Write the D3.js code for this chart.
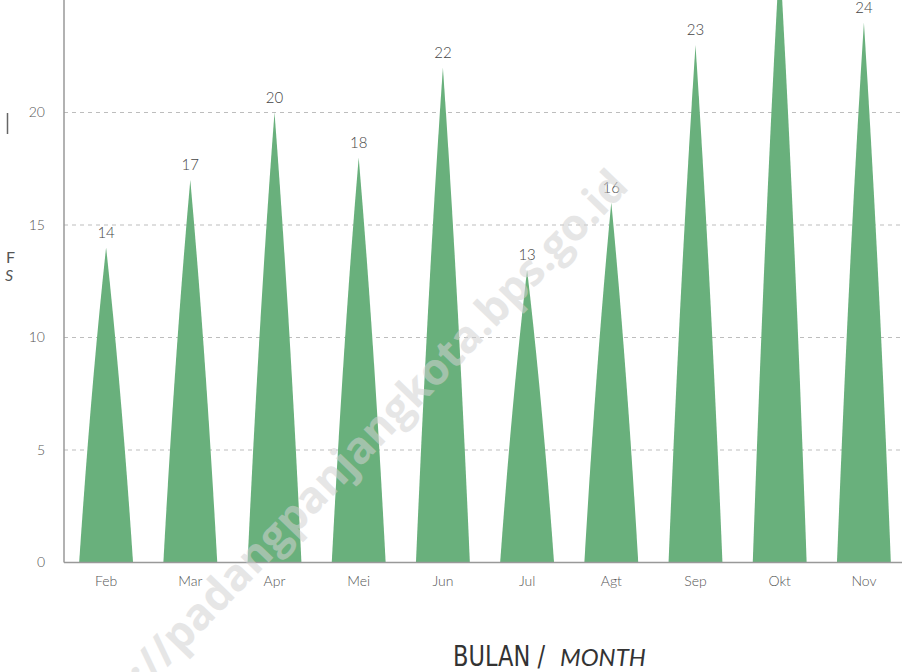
<!DOCTYPE html>
<html>
<head>
<meta charset="utf-8">
<script src="https://cdn.jsdelivr.net/npm/d3@7"></script>
<style>
  html, body { margin: 0; padding: 0; background: #fff; }
  svg { display: block; }
</style>
</head>
<body>
<svg id="chart" width="902" height="672"></svg>
<script>
const months = ["Feb", "Mar", "Apr", "Mei", "Jun", "Jul", "Agt", "Sep", "Okt", "Nov"];
const values = [14, 17, 20, 18, 22, 13, 16, 23, 27, 24];
const yTicks = [0, 5, 10, 15, 20];
const xTitleMain = "BULAN /";
const xTitleItalic = "MONTH";
const watermark = "http://padangpanjangkota.bps.go.id";

(function () {
const svg = d3.select("#chart");
const plotLeft = 64, plotRight = 906, plotBase = 562.5, plotTop = 0;

const x = d3.scaleBand().domain(months).range([plotLeft, plotRight]).padding(0);
const y = d3.scaleLinear().domain([0, 25]).range([plotBase, plotTop]);

// gridlines
svg.append("g").selectAll("line")
  .data(yTicks.filter(t => t > 0))
  .join("line")
  .attr("x1", plotLeft).attr("x2", 902)
  .attr("y1", d => y(d)).attr("y2", d => y(d))
  .attr("stroke", "#bdbdbd").attr("stroke-width", 1)
  .attr("stroke-dasharray", "4,4");

// y axis
const yAxis = d3.axisLeft(y).tickValues(yTicks).tickSize(0).tickPadding(19);
const gy = svg.append("g").attr("transform", `translate(${plotLeft},0)`).call(yAxis);
gy.select(".domain").remove();
gy.selectAll("text").attr("font-family", "Lato, sans-serif").attr("font-weight", 300)
  .attr("font-size", 14).attr("fill", "#555");
svg.append("line").attr("x1", plotLeft).attr("x2", plotLeft).attr("y1", 0).attr("y2", plotBase)
  .attr("stroke", "#999").attr("stroke-width", 1.5);

// bars
const bw = x.bandwidth() * 0.64;
const data = months.map((m, i) => ({ m, v: values[i] }));
svg.append("g").selectAll("path")
  .data(data)
  .join("path")
  .attr("fill", "#69b07c")
  .attr("d", d => {
    const cx = x(d.m) + x.bandwidth() / 2;
    const h = bw / 2;
    const y0 = y(0), yt = y(d.v), H = y0 - yt;
    return `M${cx - h},${y0} Q${cx - 0.56 * h},${yt + 0.44 * H} ${cx},${yt} ` +
           `Q${cx + 0.56 * h},${yt + 0.44 * H} ${cx + h},${y0} Z`;
  });

// value labels
svg.append("g").selectAll("text")
  .data(data)
  .join("text")
  .attr("x", d => x(d.m) + x.bandwidth() / 2)
  .attr("y", d => y(d.v) - 10)
  .attr("text-anchor", "middle")
  .attr("font-family", "Lato, sans-serif")
  .attr("font-weight", 300)
  .attr("font-size", 15)
  .attr("fill", "#444")
  .text(d => d.v);

// x axis
const xAxis = d3.axisBottom(x).tickSize(0).tickPadding(14);
const gx = svg.append("g").attr("transform", `translate(0,${plotBase})`).call(xAxis);
gx.select(".domain").remove();
gx.selectAll("text").attr("font-family", "Lato, sans-serif").attr("font-weight", 300)
  .attr("font-size", 14).attr("fill", "#555");
svg.append("line").attr("x1", plotLeft).attr("x2", 902).attr("y1", plotBase).attr("y2", plotBase)
  .attr("stroke", "#999").attr("stroke-width", 1.5);

// x title
svg.append("text")
  .attr("x", 453).attr("y", 666)
  .attr("font-family", "'DejaVu Sans Condensed', 'DejaVu Sans', sans-serif")
  .attr("font-size", 28).attr("fill", "#333")
  .attr("textLength", 92).attr("lengthAdjust", "spacingAndGlyphs")
  .text(xTitleMain);
svg.append("text")
  .attr("x", 560).attr("y", 666)
  .attr("font-family", "Lato, sans-serif")
  .attr("font-style", "italic")
  .attr("font-size", 24).attr("fill", "#333")
  .text(xTitleItalic);

// cropped y-title remnants at the left edge
svg.append("text").attr("x", 6).attr("y", 263)
  .attr("font-family", "Lato, sans-serif").attr("font-size", 16).attr("fill", "#555").text("F");
svg.append("text").attr("x", 5).attr("y", 281)
  .attr("font-family", "Lato, sans-serif").attr("font-size", 16).attr("font-style", "italic").attr("fill", "#555").text("S");
svg.append("line").attr("x1", 7.5).attr("x2", 7.5).attr("y1", 113).attr("y2", 134)
  .attr("stroke", "#666").attr("stroke-width", 1.5);

// watermark
svg.append("text")
  .attr("transform", "translate(80,758) rotate(-46)")
  .attr("font-family", "'Open Sans', sans-serif")
  .attr("font-weight", "bold")
  .attr("font-size", 44)
  .attr("fill", "#d2d2d2")
  .attr("opacity", 0.55)
  .text(watermark);
})();
</script>
</body>
</html>
